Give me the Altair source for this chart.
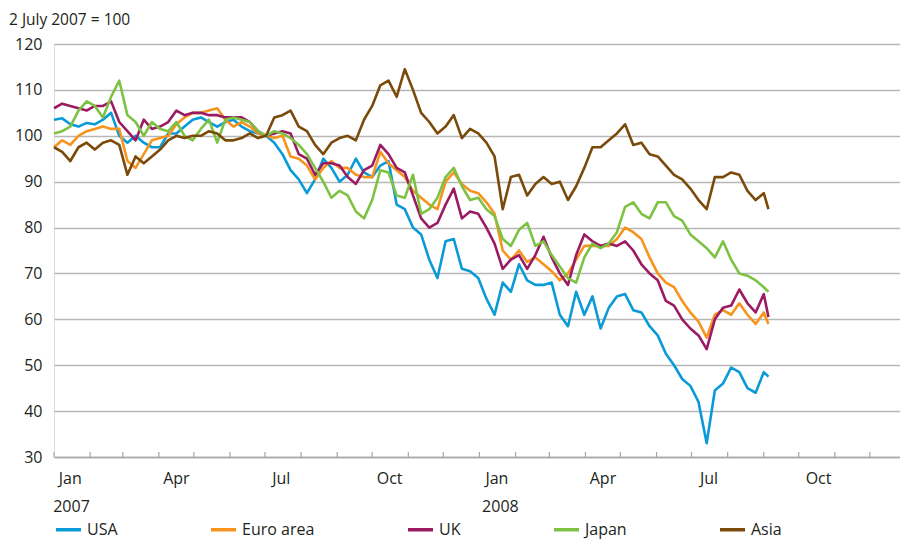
import altair as alt
import pandas as pd

# ---------------- data (weekly samples) ----------------
series_names = ["USA", "Euro area", "UK", "Japan", "Asia"]
series_colors = ["#0a9ad7", "#f7941d", "#9b1b63", "#7dc242", "#7a4a0a"]

# weekly dates starting Monday 1 Jan 2007 (88 weeks) plus the last observation
week_dates = list(pd.date_range("2007-01-01", periods=88, freq="7D").strftime("%Y-%m-%d")) + ["2008-09-05"]

usa = [103.5, 103.8, 102.5, 102, 102.8, 102.5, 103.5, 105, 100, 98.5,
       100, 98.5, 97.5, 97.5, 100.5, 100.5, 102, 103.5, 104, 103,
       102, 103, 103.5, 102, 101, 100.5, 100, 98.5, 96, 92.5,
       90.5, 87.5, 90.5, 95, 93, 90, 91.5, 95, 92, 91,
       93.5, 94.5, 85, 84, 80, 78.5, 73, 69, 77, 77.5,
       71, 70.5, 69, 64.5, 61, 68, 66, 72, 68.5, 67.5,
       67.5, 68, 61, 58.5, 66, 61, 65, 58, 62.5, 65,
       65.5, 62, 61.5, 58.5, 56.5, 52.5, 50, 47, 45.5, 42,
       33, 44.5, 46, 49.5, 48.5, 45, 44, 48.5, 47.5]

euro = [97.5, 99, 98, 100, 101, 101.5, 102, 101.5, 101.5, 94.5,
        93, 96, 99, 99.5, 100, 102.5, 104, 105, 105, 105.5,
        106, 103.5, 102, 103, 102, 100.5, 100, 99.5, 100, 95.5,
        95, 93.5, 90.5, 93, 94.5, 93, 93, 91.5, 91, 91,
        96.5, 94, 92.5, 91, 88, 86.5, 85, 84, 90, 92,
        89.5, 88, 87.5, 85.5, 83, 75, 73, 75, 72.5, 73.5,
        72, 70.5, 68.5, 70, 73, 76, 76, 76, 76, 77.5,
        80, 79, 77.5, 73.5, 70, 68, 67, 64, 61.5, 59.5,
        56, 61, 62, 61, 63.5, 61, 59, 61.5, 59]

uk = [106, 107, 106.5, 106, 105.5, 106.5, 106.5, 107.5, 103, 101,
      99, 103.5, 101.5, 102, 103, 105.5, 104.5, 105, 105, 104.5,
      104.5, 104, 104, 104, 103, 101, 100, 100.5, 101, 100.5,
      96, 95, 91.5, 94, 94, 93.5, 91, 89.5, 92.5, 93.5,
      98, 96, 93, 92, 87, 82, 80, 81, 85, 88.5,
      82, 83.5, 83, 80, 76.5, 71, 73, 74, 71, 74,
      78, 73.5, 70, 67.5, 74, 78.5, 77, 76, 76.5, 76,
      77, 75, 72, 70, 68.5, 64, 63, 60, 58, 56.5,
      53.5, 60, 62.5, 63, 66.5, 63.5, 61.5, 65.5, 60.5]

japan = [100.5, 101, 102, 105.5, 107.5, 106.5, 104, 108.5, 112, 104.5,
         103, 100, 103, 101.5, 101, 103, 100, 99, 101.5, 103.5,
         98.5, 103.5, 104, 103.5, 103, 101, 100, 101, 100.5, 99.5,
         98, 96, 93, 90, 86.5, 88, 87, 83.5, 82, 86,
         92.5, 92, 87, 86.5, 91.5, 83, 84, 86.5, 91, 93,
         89, 86, 86.5, 84, 82.5, 77.5, 76, 79.5, 81, 76,
         77, 74, 71.5, 69, 68, 73.5, 76.5, 75.5, 76.5, 79,
         84.5, 85.5, 83, 82, 85.5, 85.5, 82.5, 81.5, 78.5, 77,
         75.5, 73.5, 77, 73, 70, 69.5, 68.5, 67, 66]

asia = [97.5, 96.5, 94.5, 97.5, 98.5, 97, 98.5, 99, 98, 91.5,
        95.5, 94, 95.5, 97, 99, 100, 99.5, 100, 100, 101,
        100.5, 99, 99, 99.5, 100.5, 99.5, 100, 104, 104.5, 105.5,
        102, 101, 98, 96, 98.5, 99.5, 100, 99, 103.5, 106.5,
        111, 112, 108.5, 114.5, 110, 105, 103, 100.5, 102, 104.5,
        99.5, 101.5, 100.5, 98.5, 95.5, 84, 91, 91.5, 87, 89.5,
        91, 89.5, 90, 86, 89, 93, 97.5, 97.5, 99, 100.5,
        102.5, 98, 98.5, 96, 95.5, 93.5, 91.5, 90.5, 88.5, 86,
        84, 91, 91, 92, 91.5, 88, 86, 87.5, 84]

y_ticks = [30, 40, 50, 60, 70, 80, 90, 100, 110, 120]
month_starts = list(pd.date_range("2007-01-01", "2008-12-01", freq="MS").strftime("%Y-%m-%d"))
month_label_dates = ["2007-01-15", "2007-04-16", "2007-07-15", "2007-10-16",
                     "2008-01-16", "2008-04-16", "2008-07-16", "2008-10-18"]
month_labels = ["Jan", "Apr", "Jul", "Oct", "Jan", "Apr", "Jul", "Oct"]
year_label_dates = ["2007-01-16", "2008-01-19"]
year_labels = ["2007", "2008"]
unit_title = "2 July 2007 = 100"

# ---------------- tables ----------------
rows = []
for name, vals in zip(series_names, [usa, euro, uk, japan, asia]):
    for d, v in zip(week_dates, vals):
        rows.append({"date": d, "value": v, "series": name})
df = pd.DataFrame(rows)

FONT = "Open Sans"
TXT = "#231f20"
FS = 16
W, H = 846, 413

xscale = alt.Scale(type="utc",
                   domain=[alt.DateTime(year=2007, month=1, date=1, utc=True),
                           alt.DateTime(year=2008, month=12, date=26, hours=21, utc=True)],
                   nice=False)

lines = alt.Chart(df).mark_line(strokeWidth=2.6, strokeJoin="round").encode(
    x=alt.X("date:T", scale=xscale,
            axis=alt.Axis(labels=False, ticks=False, grid=False, title=None,
                          domain=True, domainColor="#a6a6a6", domainWidth=1.5)),
    y=alt.Y("value:Q", scale=alt.Scale(domain=[30, 120], nice=False, zero=False),
            axis=alt.Axis(values=y_ticks, title=None, domain=False, ticks=False,
                          labelPadding=12, labelFontSize=FS, labelFont=FONT,
                          labelColor=TXT, gridColor="#b7b7b7", gridWidth=1.5)),
    color=alt.Color("series:N",
                    scale=alt.Scale(domain=series_names, range=series_colors),
                    legend=alt.Legend(title=None, orient="none", direction="horizontal",
                                      legendX=0, legendY=471, padding=0,
                                      symbolType="stroke", symbolSize=625,
                                      symbolStrokeWidth=3.5, labelFontSize=FS,
                                      labelFont=FONT, labelColor=TXT, labelOffset=4,
                                      columnPadding=86)),
)

ticks = alt.Chart(pd.DataFrame({"date": month_starts})).mark_rule(
    color="#a6a6a6", strokeWidth=1.2).encode(
    x=alt.X("date:T", scale=xscale),
    y=alt.value(H - 5), y2=alt.value(H))

mtext = alt.Chart(pd.DataFrame({"date": month_label_dates, "t": month_labels})).mark_text(
    font=FONT, fontSize=FS, color=TXT, baseline="alphabetic", align="center").encode(
    x=alt.X("date:T", scale=xscale), y=alt.value(H + 27), text="t:N")

ytext = alt.Chart(pd.DataFrame({"date": year_label_dates, "t": year_labels})).mark_text(
    font=FONT, fontSize=FS, color=TXT, baseline="alphabetic", align="center").encode(
    x=alt.X("date:T", scale=xscale), y=alt.value(H + 55), text="t:N")

ttext = alt.Chart(pd.DataFrame({"t": [unit_title]})).mark_text(
    font=FONT, fontSize=15.5, color=TXT, baseline="alphabetic", align="left").encode(
    x=alt.value(-45), y=alt.value(-19), text="t:N")

chart = alt.layer(lines, ticks, mtext, ytext, ttext).properties(
    width=W, height=H, autosize="none",
    padding={"left": 46, "top": 36, "right": 0, "bottom": 82},
).configure_view(stroke=None).configure(font=FONT)

chart.save("out.html", embed_options={"renderer": "svg", "actions": False})
